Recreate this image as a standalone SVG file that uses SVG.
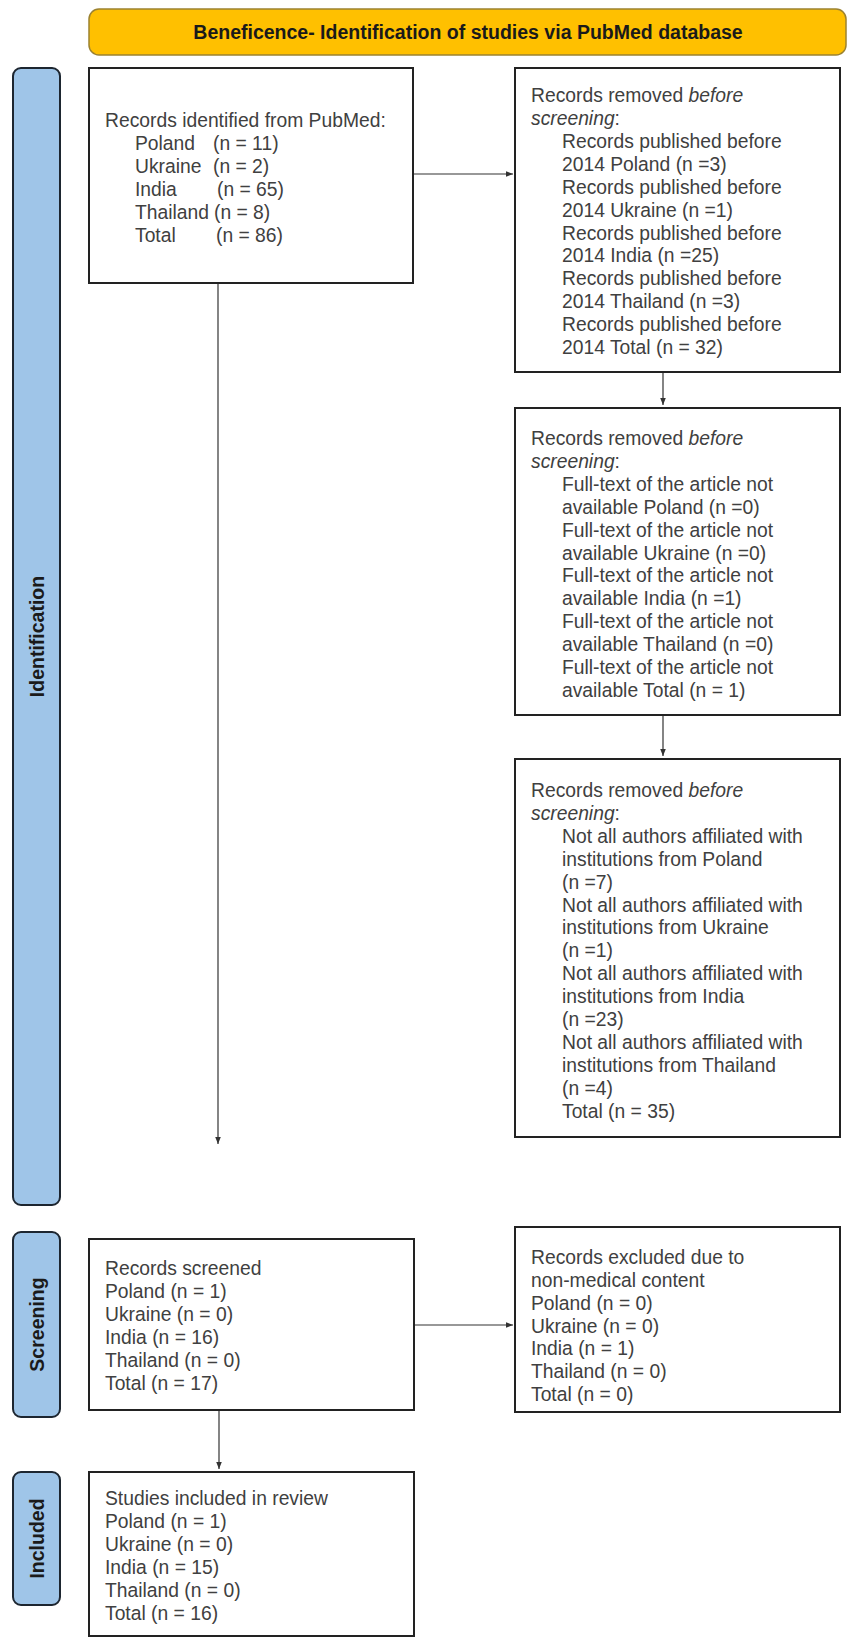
<svg xmlns="http://www.w3.org/2000/svg" width="851" height="1646" viewBox="0 0 851 1646">
<defs>
<marker id="ah" viewBox="0 0 10 10" refX="10" refY="5" markerWidth="8" markerHeight="7" markerUnits="userSpaceOnUse" orient="auto"><path d="M0,1 L10,5 L0,9 z" fill="#333"/></marker>
<style>
.box{fill:#fff;stroke:#222;stroke-width:2}
.side{fill:#9fc5e8;stroke:#1d2630;stroke-width:2}
.t{font-family:"Liberation Sans",Arial,sans-serif;font-size:19.3px;fill:#404040}
.i{font-style:italic}
.lbl{font-family:"Liberation Sans",Arial,sans-serif;font-size:19.5px;font-weight:bold;fill:#1a1a1a}
.conn{stroke:#333;stroke-width:1.2;fill:none;marker-end:url(#ah)}
</style>
</defs>
<rect width="851" height="1646" fill="#fff"/>
<g id="header">
<rect x="89" y="9" width="757" height="46" rx="10" fill="#ffc000" stroke="#9c8230" stroke-width="1.5"/>
<text class="lbl" x="468" y="39" text-anchor="middle">Beneficence- Identification of studies via PubMed database</text>
</g>
<g id="side-identification">
<rect class="side" x="13" y="68" width="47" height="1137" rx="8"/>
<text class="lbl" transform="translate(43.5,636.5) rotate(-90)" text-anchor="middle">Identification</text>
</g>
<g id="side-screening">
<rect class="side" x="13" y="1232" width="47" height="185" rx="8"/>
<text class="lbl" transform="translate(43.5,1324.5) rotate(-90)" text-anchor="middle">Screening</text>
</g>
<g id="side-included">
<rect class="side" x="13" y="1472" width="47" height="133" rx="8"/>
<text class="lbl" transform="translate(43.5,1538.5) rotate(-90)" text-anchor="middle">Included</text>
</g>
<g id="identified">
<rect class="box" x="89" y="68" width="324" height="215"/>
<text class="t" x="105" y="127">Records identified from PubMed:</text>
<text class="t" y="150"><tspan x="135">Poland</tspan><tspan x="213">(n = 11)</tspan></text>
<text class="t" y="173"><tspan x="135">Ukraine</tspan><tspan x="213">(n = 2)</tspan></text>
<text class="t" y="196"><tspan x="135">India</tspan><tspan x="217">(n = 65)</tspan></text>
<text class="t" y="219"><tspan x="135">Thailand</tspan><tspan x="214">(n = 8)</tspan></text>
<text class="t" y="242"><tspan x="135">Total</tspan><tspan x="216">(n = 86)</tspan></text>
</g>
<g id="removed-date">
<rect class="box" x="515" y="68" width="325" height="304"/>
<text class="t" x="531" y="102">Records removed <tspan class="i">before</tspan></text>
<text class="t" x="531" y="125"><tspan class="i">screening</tspan>:</text>
<text class="t" x="562" y="148">Records published before</text>
<text class="t" x="562" y="171">2014 Poland (n =3)</text>
<text class="t" x="562" y="194">Records published before</text>
<text class="t" x="562" y="217">2014 Ukraine (n =1)</text>
<text class="t" x="562" y="240">Records published before</text>
<text class="t" x="562" y="262">2014 India (n =25)</text>
<text class="t" x="562" y="285">Records published before</text>
<text class="t" x="562" y="308">2014 Thailand (n =3)</text>
<text class="t" x="562" y="331">Records published before</text>
<text class="t" x="562" y="354">2014 Total (n = 32)</text>
</g>
<g id="removed-fulltext">
<rect class="box" x="515" y="408" width="325" height="307"/>
<text class="t" x="531" y="445">Records removed <tspan class="i">before</tspan></text>
<text class="t" x="531" y="468"><tspan class="i">screening</tspan>:</text>
<text class="t" x="562" y="491">Full-text of the article not</text>
<text class="t" x="562" y="514">available Poland (n =0)</text>
<text class="t" x="562" y="537">Full-text of the article not</text>
<text class="t" x="562" y="560">available Ukraine (n =0)</text>
<text class="t" x="562" y="582">Full-text of the article not</text>
<text class="t" x="562" y="605">available India (n =1)</text>
<text class="t" x="562" y="628">Full-text of the article not</text>
<text class="t" x="562" y="651">available Thailand (n =0)</text>
<text class="t" x="562" y="674">Full-text of the article not</text>
<text class="t" x="562" y="697">available Total (n = 1)</text>
</g>
<g id="removed-affiliation">
<rect class="box" x="515" y="759" width="325" height="378"/>
<text class="t" x="531" y="797">Records removed <tspan class="i">before</tspan></text>
<text class="t" x="531" y="820"><tspan class="i">screening</tspan>:</text>
<text class="t" x="562" y="843">Not all authors affiliated with</text>
<text class="t" x="562" y="866">institutions from Poland</text>
<text class="t" x="562" y="889">(n =7)</text>
<text class="t" x="562" y="912">Not all authors affiliated with</text>
<text class="t" x="562" y="934">institutions from Ukraine</text>
<text class="t" x="562" y="957">(n =1)</text>
<text class="t" x="562" y="980">Not all authors affiliated with</text>
<text class="t" x="562" y="1003">institutions from India</text>
<text class="t" x="562" y="1026">(n =23)</text>
<text class="t" x="562" y="1049">Not all authors affiliated with</text>
<text class="t" x="562" y="1072">institutions from Thailand</text>
<text class="t" x="562" y="1095">(n =4)</text>
<text class="t" x="562" y="1118">Total (n = 35)</text>
</g>
<g id="screened">
<rect class="box" x="89" y="1239" width="325" height="171"/>
<text class="t" x="105" y="1275">Records screened</text>
<text class="t" x="105" y="1298">Poland (n = 1)</text>
<text class="t" x="105" y="1321">Ukraine (n = 0)</text>
<text class="t" x="105" y="1344">India (n = 16)</text>
<text class="t" x="105" y="1367">Thailand (n = 0)</text>
<text class="t" x="105" y="1390">Total (n = 17)</text>
</g>
<g id="excluded">
<rect class="box" x="515" y="1227" width="325" height="185"/>
<text class="t" x="531" y="1264">Records excluded due to</text>
<text class="t" x="531" y="1287">non-medical content</text>
<text class="t" x="531" y="1310">Poland (n = 0)</text>
<text class="t" x="531" y="1333">Ukraine (n = 0)</text>
<text class="t" x="531" y="1355">India (n = 1)</text>
<text class="t" x="531" y="1378">Thailand (n = 0)</text>
<text class="t" x="531" y="1401">Total (n = 0)</text>
</g>
<g id="included">
<rect class="box" x="89" y="1472" width="325" height="164"/>
<text class="t" x="105" y="1505">Studies included in review</text>
<text class="t" x="105" y="1528">Poland (n = 1)</text>
<text class="t" x="105" y="1551">Ukraine (n = 0)</text>
<text class="t" x="105" y="1574">India (n = 15)</text>
<text class="t" x="105" y="1597">Thailand (n = 0)</text>
<text class="t" x="105" y="1620">Total (n = 16)</text>
</g>
<g id="connectors">
<path class="conn" d="M414,174 H513"/>
<path class="conn" d="M663,373 V405"/>
<path class="conn" d="M663,716 V756"/>
<path class="conn" d="M218,284 V1144"/>
<path class="conn" d="M415,1325 H513"/>
<path class="conn" d="M219,1411 V1469"/>
</g>
</svg>
